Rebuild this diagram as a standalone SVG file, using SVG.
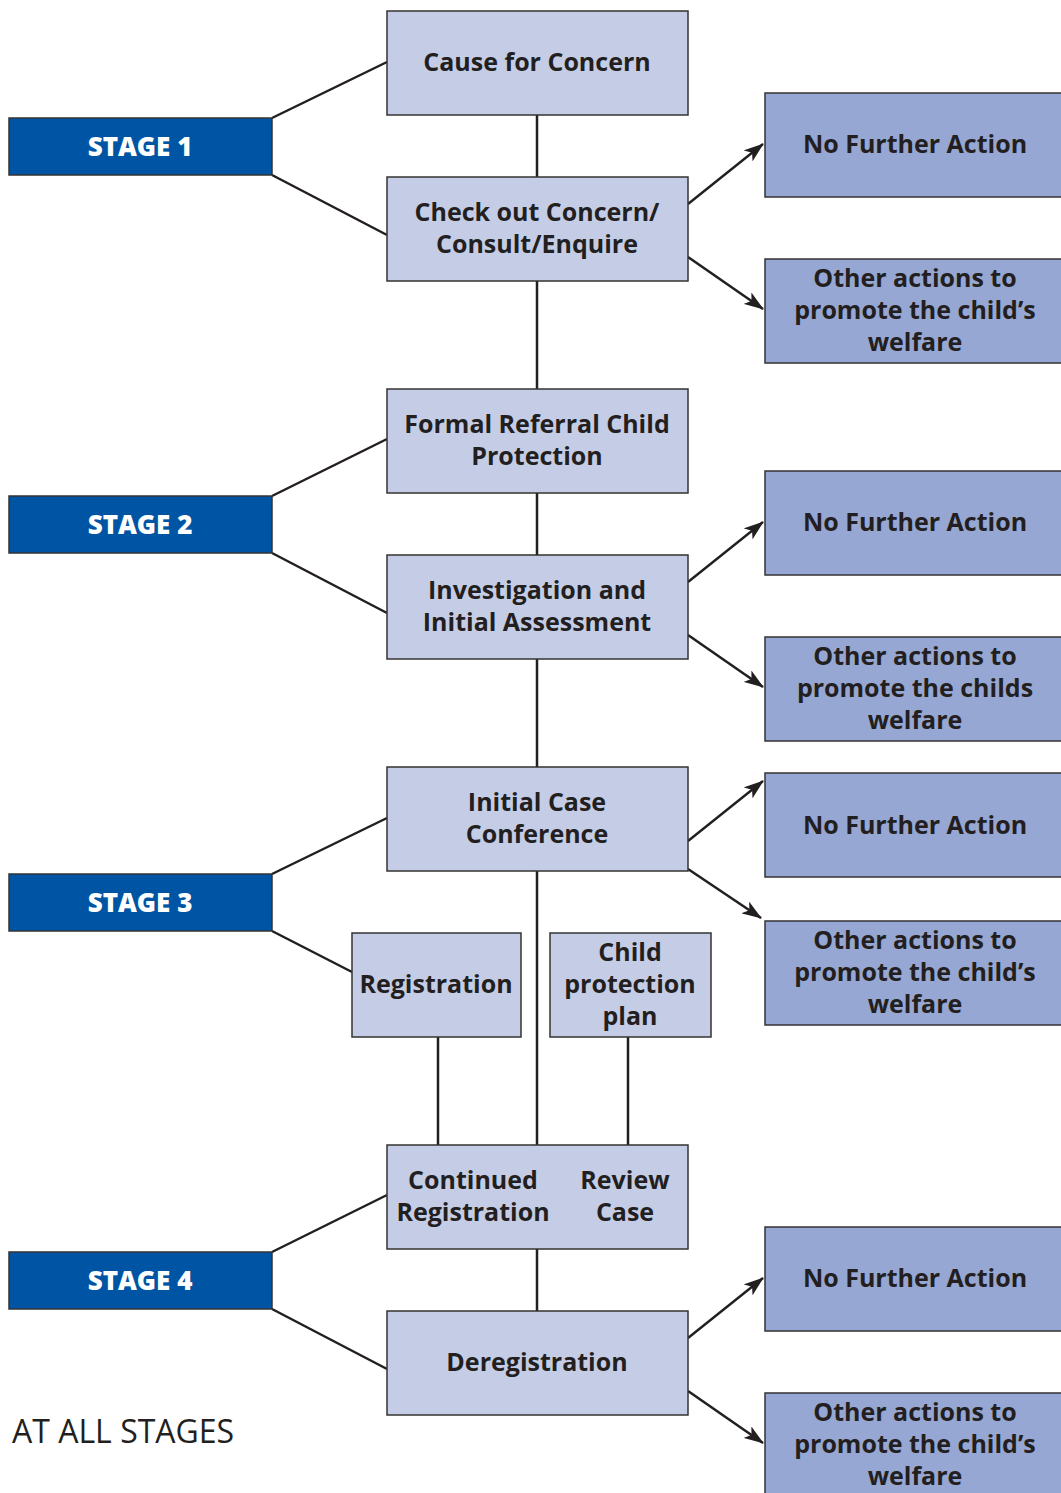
<svg xmlns="http://www.w3.org/2000/svg" width="1061" height="1493" viewBox="0 0 1061 1493">
<style>
.stage rect{fill:#0054A4;stroke:#333;stroke-width:1.5}
.stage text{fill:#fff;font-family:"Open Sans","Noto Sans",sans-serif;font-weight:800;font-size:26px;text-anchor:middle}
.c rect{fill:#C5CDE6;stroke:#333;stroke-width:1.5}
.r rect{fill:#96A7D3;stroke:#333;stroke-width:1.5}
.c text,.r text{fill:#231F20;font-family:"Open Sans","Noto Sans",sans-serif;font-weight:bold;font-size:25px;text-anchor:middle}
#connectors line{stroke:#231F20;stroke-width:2.5}
.arr{marker-end:url(#ah)}
</style>
<defs>
<marker id="ah" viewBox="0 0 20 14" refX="19" refY="7" markerWidth="20" markerHeight="14" markerUnits="userSpaceOnUse" orient="auto">
<path d="M0,0 L20,7 L0,14 L5,7 Z" fill="#231F20"/>
</marker>
</defs>
<rect width="1061" height="1493" fill="#fff"/>
<g id="connectors">
<line x1="272" y1="118" x2="387" y2="62"/>
<line x1="272" y1="175" x2="387" y2="235"/>
<line x1="272" y1="496" x2="387" y2="439"/>
<line x1="272" y1="553" x2="387" y2="613"/>
<line x1="272" y1="874" x2="387" y2="818"/>
<line x1="272" y1="931" x2="352" y2="972"/>
<line x1="272" y1="1252" x2="387" y2="1195"/>
<line x1="272" y1="1309" x2="387" y2="1369"/>
<line x1="537" y1="115" x2="537" y2="177"/>
<line x1="537" y1="281" x2="537" y2="389"/>
<line x1="537" y1="493" x2="537" y2="555"/>
<line x1="537" y1="659" x2="537" y2="767"/>
<line x1="537" y1="871" x2="537" y2="1145"/>
<line x1="537" y1="1249" x2="537" y2="1311"/>
<line x1="438" y1="1037" x2="438" y2="1145"/>
<line x1="628" y1="1037" x2="628" y2="1145"/>
<line class="arr" x1="688" y1="204" x2="763" y2="144"/>
<line class="arr" x1="688" y1="257" x2="763" y2="309"/>
<line class="arr" x1="688" y1="582" x2="763" y2="522"/>
<line class="arr" x1="688" y1="635" x2="763" y2="687"/>
<line class="arr" x1="688" y1="841" x2="763" y2="781"/>
<line class="arr" x1="688" y1="869" x2="761" y2="918"/>
<line class="arr" x1="688" y1="1338" x2="763" y2="1278"/>
<line class="arr" x1="688" y1="1391" x2="763" y2="1443"/>
</g>
<g id="stage1" class="stage"><rect x="9" y="118" width="263" height="57"/><text x="140" y="156">STAGE 1</text></g>
<g id="stage2" class="stage"><rect x="9" y="496" width="263" height="57"/><text x="140" y="534">STAGE 2</text></g>
<g id="stage3" class="stage"><rect x="9" y="874" width="263" height="57"/><text x="140" y="912">STAGE 3</text></g>
<g id="stage4" class="stage"><rect x="9" y="1252" width="263" height="57"/><text x="140" y="1290">STAGE 4</text></g>

<g id="cause" class="c"><rect x="387" y="11" width="301" height="104"/><text x="537" y="71">Cause for Concern</text></g>
<g id="checkout" class="c"><rect x="387" y="177" width="301" height="104"/><text x="537" y="221">Check out Concern/</text><text x="537" y="253">Consult/Enquire</text></g>
<g id="formal" class="c"><rect x="387" y="389" width="301" height="104"/><text x="537" y="433">Formal Referral Child</text><text x="537" y="465">Protection</text></g>
<g id="investigation" class="c"><rect x="387" y="555" width="301" height="104"/><text x="537" y="599">Investigation and</text><text x="537" y="631">Initial Assessment</text></g>
<g id="icc" class="c"><rect x="387" y="767" width="301" height="104"/><text x="537" y="811">Initial Case</text><text x="537" y="843">Conference</text></g>
<g id="registration" class="c"><rect x="352" y="933" width="169" height="104"/><text x="436" y="993">Registration</text></g>
<g id="cpp" class="c"><rect x="550" y="933" width="161" height="104"/><text x="630" y="961">Child</text><text x="630" y="993">protection</text><text x="630" y="1025">plan</text></g>
<g id="continued" class="c"><rect x="387" y="1145" width="301" height="104"/><text x="473" y="1189">Continued</text><text x="473" y="1221">Registration</text><text x="625" y="1189">Review</text><text x="625" y="1221">Case</text></g>
<g id="dereg" class="c"><rect x="387" y="1311" width="301" height="104"/><text x="537" y="1371">Deregistration</text></g>

<g id="nfa1" class="r"><rect x="765" y="93" width="300" height="104"/><text x="915" y="153">No Further Action</text></g>
<g id="other1" class="r"><rect x="765" y="259" width="300" height="104"/><text x="915" y="287">Other actions to</text><text x="915" y="319">promote the child’s</text><text x="915" y="351">welfare</text></g>
<g id="nfa2" class="r"><rect x="765" y="471" width="300" height="104"/><text x="915" y="531">No Further Action</text></g>
<g id="other2" class="r"><rect x="765" y="637" width="300" height="104"/><text x="915" y="665">Other actions to</text><text x="915" y="697">promote the childs</text><text x="915" y="729">welfare</text></g>
<g id="nfa3" class="r"><rect x="765" y="773" width="300" height="104"/><text x="915" y="834">No Further Action</text></g>
<g id="other3" class="r"><rect x="765" y="921" width="300" height="104"/><text x="915" y="949">Other actions to</text><text x="915" y="981">promote the child’s</text><text x="915" y="1013">welfare</text></g>
<g id="nfa4" class="r"><rect x="765" y="1227" width="300" height="104"/><text x="915" y="1287">No Further Action</text></g>
<g id="other4" class="r"><rect x="765" y="1393" width="300" height="104"/><text x="915" y="1421">Other actions to</text><text x="915" y="1453">promote the child’s</text><text x="915" y="1485">welfare</text></g>

<text x="12" y="1443" font-family="'Open Sans','Noto Sans',sans-serif" font-size="32" fill="#231F20">AT ALL STAGES</text>
</svg>
